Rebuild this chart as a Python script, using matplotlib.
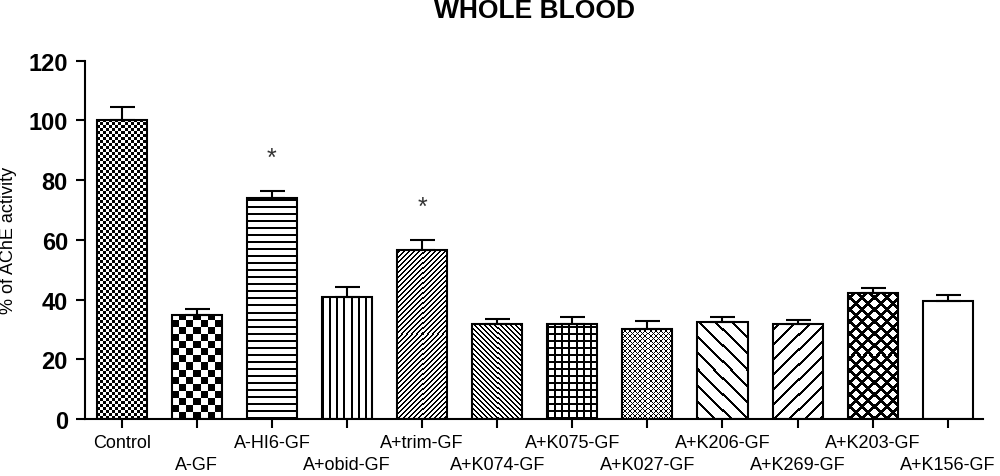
import numpy as np
import matplotlib
matplotlib.use("Agg")
import matplotlib.pyplot as plt

labels = ["Control", "A-GF", "A-HI6-GF", "A+obid-GF", "A+trim-GF", "A+K074-GF",
          "A+K075-GF", "A+K027-GF", "A+K206-GF", "A+K269-GF", "A+K203-GF", "A+K156-GF"]
activity = [100.0, 34.9, 74.0, 40.8, 56.6, 31.8, 31.8, 30.0, 32.5, 31.8, 42.2, 39.6]
sem = [4.5, 1.8, 2.3, 3.5, 3.3, 1.8, 2.5, 2.9, 1.6, 1.2, 1.5, 1.9]
significant = [False, False, True, False, True, False, False, False, False, False, False, False]

# fill pattern of each bar (kind, period in px, line thickness in px)
patterns = [("checker", 3, 0), ("checker", 7, 0), ("hlines", 7, 2), ("vlines", 7, 2),
            ("slash", 5, 2), ("backslash", 5, 2), ("grid", 7, 2), ("cross", 5, 1),
            ("backslash", 16, 3), ("slash", 15, 3), ("cross", 12, 4), (None, 0, 0)]

plt.rcParams['font.family'] = ['Liberation Sans', 'DejaVu Sans']


def texture(kind, w, h, p, t):
    yy, xx = np.mgrid[0:h, 0:w]
    if kind == "checker":
        return ((xx // p + yy // p) % 2).astype(float)
    if kind == "hlines":
        return (yy % p < t).astype(float)
    if kind == "vlines":
        return (xx % p < t).astype(float)
    if kind == "slash":
        return ((xx - yy) % p < t).astype(float)
    if kind == "backslash":
        return ((xx + yy) % p < t).astype(float)
    if kind == "grid":
        return ((xx % p < t) | (yy % p < t)).astype(float)
    if kind == "cross":
        return (((xx + yy) % p < t) | ((xx - yy) % p < t)).astype(float)
    return np.zeros((h, w))


fig = plt.figure(figsize=(10, 4.77), dpi=100)
ax = fig.add_axes([0.085, 0.1195, 0.898, 0.7515])
x = np.arange(len(labels))
width = 0.667

bars = ax.bar(x, activity, width=width, facecolor="none", edgecolor="black",
              linewidth=1.5, zorder=3)
ax.set_xlim(-0.49, 11.47)
ax.set_ylim(0, 120)

for bar, (kind, p, t) in zip(bars, patterns):
    if kind is None:
        continue
    bb = bar.get_window_extent()
    w, h = int(round(bb.width)), int(round(bb.height))
    img = texture(kind, w, h, p, t)
    x0 = bar.get_x()
    im = ax.imshow(img, cmap="gray_r", vmin=0, vmax=1, origin="lower",
                   extent=(x0, x0 + bar.get_width(), 0, bar.get_height()),
                   interpolation="nearest", aspect="auto", zorder=2)
    im.set_clip_path(bar)

ax.errorbar(x, activity, yerr=[np.zeros(len(sem)), sem], fmt="none", ecolor="black",
            elinewidth=1.5, capsize=9, capthick=1.5, zorder=4)

for xi, v, s, sig in zip(x, activity, sem, significant):
    if sig:
        ax.text(xi, v + s + 11, "*", ha="center", va="center", fontsize=18, color="#333333")

ax.set_xlim(-0.49, 11.47)
ax.set_ylim(0, 120)
ax.set_yticks(range(0, 121, 20))
ax.set_xticks(x)
ax.set_xticklabels(labels, fontsize=13)
for lab in ax.get_yticklabels():
    lab.set_fontweight("bold")
ax.tick_params(axis="y", labelsize=17, length=6.5, width=1.5, pad=5.8)
ax.tick_params(axis="x", length=6.5, width=1.5)
for i, tick in enumerate(ax.xaxis.get_major_ticks()):
    tick.set_pad(4.3 if i % 2 == 0 else 20)

for side in ["top", "right"]:
    ax.spines[side].set_visible(False)
for side in ["left", "bottom"]:
    ax.spines[side].set_linewidth(1.5)

fig.text(0.534, 1 - 18 / 477, "WHOLE BLOOD", ha="center", va="baseline",
         fontsize=19, fontweight="bold")
fig.text(0.009, 0.495, "% of AChE activity", rotation=90, ha="center", va="center",
         fontsize=13)

fig.savefig("out.png", dpi=100)
